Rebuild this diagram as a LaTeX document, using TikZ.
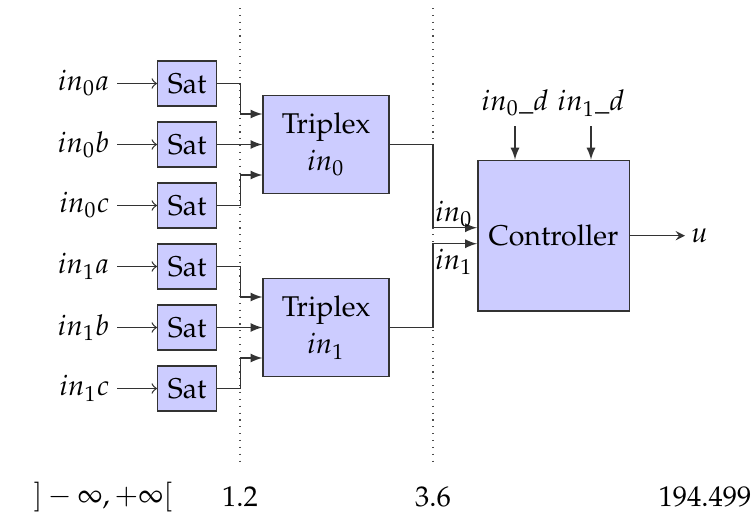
\documentclass[tikz,border=0pt]{standalone}
\usepackage[T1]{fontenc}
\usepackage{mathpazo}
\usetikzlibrary{arrows,calc}
\begin{document}
\begin{tikzpicture}[x=0.35pt,y=-0.35pt,
  blk/.style={draw=black!80,fill=blue!20,line width=0.5pt,inner sep=0pt,align=center},
  satbox/.style={blk,minimum width=20.6pt,minimum height=15.7pt},
  tribox/.style={blk,minimum width=44pt,minimum height=34.4pt},
  ctrlbox/.style={blk,minimum width=53pt,minimum height=52.8pt},
  wire/.style={draw=black!80,line width=0.45pt},
  inlbl/.style={anchor=east,inner sep=2.5pt},
  vline/.style={dotted,draw=black!70,line width=0.4pt}]
\useasboundingbox (0,0) rectangle (754,516);
% dotted guides
\coordinate (g1t) at (240,8); \coordinate (g1b) at (240,462);
\coordinate (g2t) at (433,8); \coordinate (g2b) at (433,462);
\draw[vline] (g1t) -- (g1b);
\draw[vline] (g2t) -- (g2b);
% inputs
\foreach \n/\t/\y in {a0/{in_0a}/83.5, b0/{in_0b}/144.5, c0/{in_0c}/205.5, a1/{in_1a}/266.5, b1/{in_1b}/327.5, c1/{in_1c}/388.5}{
  \node[inlbl] (l\n) at (117,\y) {$\t$};
  \node[satbox] (s\n) at (187.2,\y) {Sat};
  \draw[wire,-to] (l\n.east) -- (s\n.west);
}
% triplex
\node[tribox] (t0) at (326,144.5) {Triplex\\[1pt]$in_0$};
\node[tribox] (t1) at (326,327.5) {Triplex\\[1pt]$in_1$};
\draw[wire,-latex] (sa0.east) -- ++(23,0) |- ($(t0.west)+(0,-30.5)$);
\draw[wire,-latex] (sb0.east) -- (t0.west);
\draw[wire,-latex] (sc0.east) -- ++(23,0) |- ($(t0.west)+(0,30.5)$);
\draw[wire,-latex] (sa1.east) -- ++(23,0) |- ($(t1.west)+(0,-30.5)$);
\draw[wire,-latex] (sb1.east) -- (t1.west);
\draw[wire,-latex] (sc1.east) -- ++(23,0) |- ($(t1.west)+(0,30.5)$);
% controller
\node[ctrlbox] (ctrl) at (553.5,235.7) {Controller};
\draw[wire,-latex] (t0.east) -- (433,144.5) |- ($(ctrl.west)+(0,-8)$);
\draw[wire,-latex] (t1.east) -- (433,327.5) |- ($(ctrl.west)+(0,8)$);
\node (li0) at (454,214) {$in_0$};
\node (li1) at (454,262) {$in_1$};
\node (d0) at (515,103) {$in_0\_d$};
\node (d1) at (591,103) {$in_1\_d$};
\draw[wire,-latex] (d0.south) -- (d0.south |- ctrl.north);
\draw[wire,-latex] (d1.south) -- (d1.south |- ctrl.north);
\coordinate (uo) at (685,235.7);
\draw[wire,-stealth] (ctrl.east) -- (uo);
\node[anchor=west,inner sep=2pt] (u) at (uo) {$u$};
% bottom axis labels
\node (x0) at (103,497) {$]-\infty,+\infty[$};
\node (x1) at (240,497) {1.2};
\node (x2) at (433,497) {3.6};
\node (x3) at (705,497) {194.499};
\end{tikzpicture}
\end{document}
